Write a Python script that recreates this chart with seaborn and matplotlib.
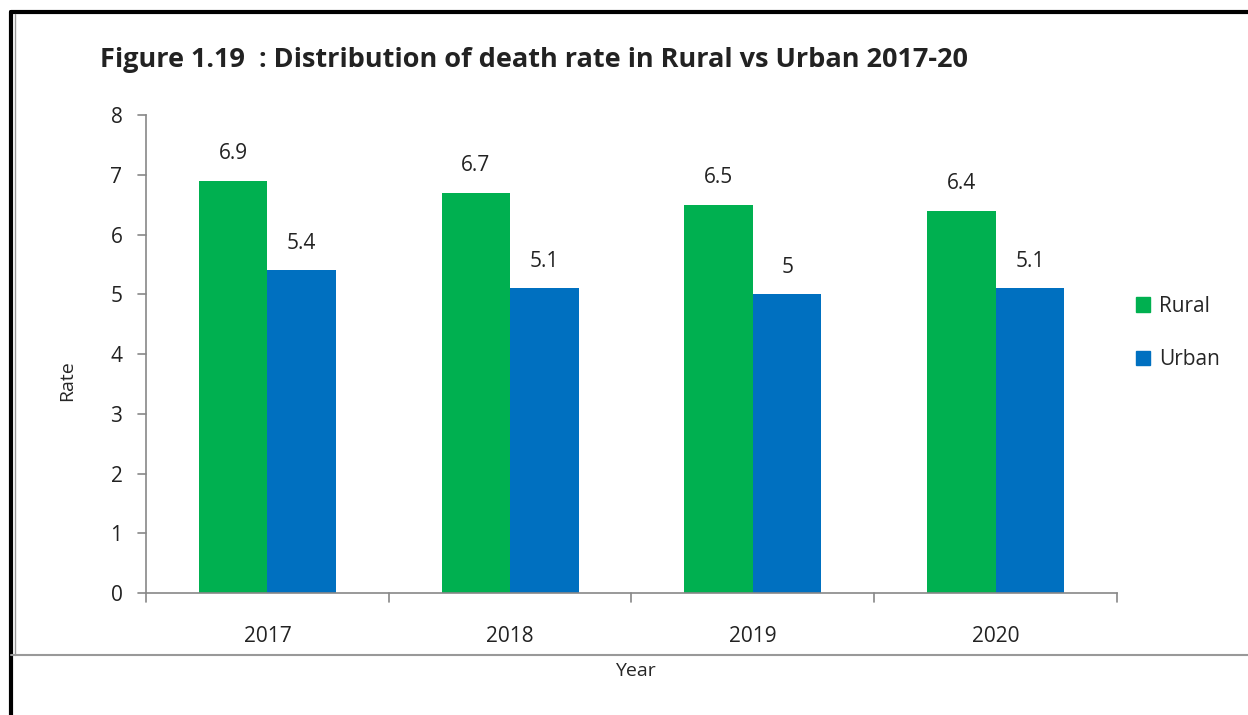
import pandas as pd
import matplotlib.pyplot as plt
import seaborn as sns
from matplotlib.lines import Line2D

# Data
years = ['2017', '2018', '2019', '2020']
rural = [6.9, 6.7, 6.5, 6.4]
urban = [5.4, 5.1, 5.0, 5.1]
series = ['Rural', 'Urban']
colors = ['#00B050', '#0070C0']

df = pd.DataFrame({
    'Year': years * 2,
    'Area': ['Rural'] * len(years) + ['Urban'] * len(years),
    'Rate': rural + urban,
})

sns.set_style('white')
plt.rcParams['font.family'] = ['Open Sans', 'DejaVu Sans']

fig = plt.figure(figsize=(12.48, 7.15), dpi=100)
ax = fig.add_axes([0.117, 0.1706, 0.778, 0.6685])

sns.barplot(data=df, x='Year', y='Rate', hue='Area', palette=colors,
            width=0.565, saturation=1, linewidth=0, ax=ax, legend=False)

# value labels
for cont in ax.containers:
    labels = [f'{v:g}' for v in cont.datavalues]
    ax.bar_label(cont, labels=labels, padding=12, fontsize=15, color='#222222')

ax.set_ylim(0, 8)
ax.set_xlim(-0.5, 3.5)
ax.set_yticks(range(0, 9))
ax.set_xticks([0, 1, 2, 3])
ax.set_xticklabels(years)
ax.tick_params(axis='both', labelsize=15, colors='#222222', length=0)
ax.tick_params(axis='y', pad=17)
ax.tick_params(axis='x', pad=24)
# boundary tick marks on x axis
for xb in [-0.5, 0.5, 1.5, 2.5, 3.5]:
    ax.plot([xb, xb], [0, -0.15], color='#888888', lw=1.2, clip_on=False)
for yv in range(0, 9):
    ax.plot([-0.5, -0.535], [yv, yv], color='#888888', lw=1.2, clip_on=False)

for s in ['top', 'right']:
    ax.spines[s].set_visible(False)
ax.spines['left'].set_color('#888888')
ax.spines['bottom'].set_color('#888888')
ax.spines['left'].set_linewidth(1.2)
ax.spines['bottom'].set_linewidth(1.2)
ax.set_xlabel('')
ax.set_ylabel('')

fig.text(0.054, 0.468, 'Rate', rotation=90, fontsize=14, ha='center', va='center')
fig.text(0.509, 0.062, 'Year', fontsize=14, ha='center', va='center')
fig.text(0.08, 0.916, 'Figure 1.19  : Distribution of death rate in Rural vs Urban 2017-20',
         fontsize=19.5, fontweight='bold', ha='left', va='center', color='#222222')

# legend
handles = [plt.Rectangle((0, 0), 1, 1, color=c) for c in colors]
fig.legend(handles, series, loc='center left', bbox_to_anchor=(0.895, 0.534),
           frameon=False, fontsize=15, handlelength=0.7, handleheight=0.7,
           handletextpad=0.4, labelspacing=1.55)

# frame lines
fig.add_artist(Line2D([0.009, 1.0], [0.983, 0.983], color='black', lw=3))
fig.add_artist(Line2D([0.009, 0.009], [0.0, 0.983], color='black', lw=3))
fig.add_artist(Line2D([0.012, 0.012], [0.084, 0.980], color='#999999', lw=1))
fig.add_artist(Line2D([0.009, 1.0], [0.084, 0.084], color='#999999', lw=1.5))

fig.savefig('out.png', dpi=100)
